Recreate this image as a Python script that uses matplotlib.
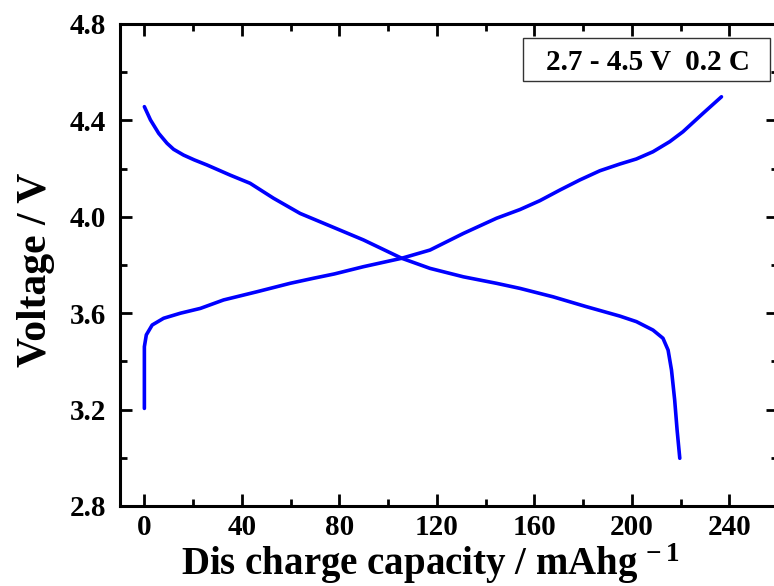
import matplotlib
matplotlib.use("Agg")
import matplotlib.pyplot as plt
from matplotlib.ticker import MultipleLocator
from matplotlib.patches import Rectangle

plt.rcParams['font.family'] = ['Liberation Serif', 'DejaVu Serif']
plt.rcParams['font.weight'] = 'bold'
plt.rcParams['mathtext.fontset'] = 'custom'
plt.rcParams['mathtext.rm'] = 'Liberation Serif:bold'
plt.rcParams['mathtext.it'] = 'Liberation Serif:bold'
plt.rcParams['mathtext.bf'] = 'Liberation Serif:bold'

# Charge curve (voltage rising)
charge_cap = [0.0, 0.0, 0.0, 0.8, 3.2, 7.9, 14.8, 23.0, 32.5, 46.2, 59.8, 69.4,
              78.0, 89.9, 105.6, 117.2, 130.9, 144.5, 154.1, 162.3, 170.5,
              178.7, 186.9, 195.1, 201.9, 208.7, 215.6, 221.0, 229.2, 236.8]
charge_v = [3.205, 3.392, 3.461, 3.510, 3.551, 3.579, 3.600, 3.620, 3.655, 3.689,
            3.724, 3.745, 3.763, 3.793, 3.828, 3.862, 3.931, 3.994, 4.030,
            4.067, 4.111, 4.153, 4.191, 4.219, 4.240, 4.270, 4.312, 4.353,
            4.429, 4.498]

# Discharge curve (voltage falling)
dis_cap = [0.0, 2.5, 5.9, 9.3, 12.0, 16.1, 20.5, 25.7, 35.2, 43.4, 53.0,
           63.9, 76.2, 89.9, 105.6, 117.2, 130.9, 144.5, 154.1, 167.7,
           181.4, 195.1, 201.9, 208.7, 212.8, 214.9, 216.3, 217.6, 218.6, 219.7]
dis_v = [4.457, 4.402, 4.346, 4.305, 4.280, 4.256, 4.236, 4.215, 4.173,
         4.139, 4.077, 4.014, 3.962, 3.904, 3.828, 3.786, 3.751, 3.724,
         3.703, 3.668, 3.627, 3.588, 3.565, 3.530, 3.496, 3.447, 3.364, 3.240,
         3.115, 2.998]

xticks = [0, 40, 80, 120, 160, 200, 240]
yticks = [2.8, 3.2, 3.6, 4.0, 4.4, 4.8]
box_text = "2.7 - 4.5 V  0.2 C"

W, H = 774, 586
fig = plt.figure(figsize=(W / 100, H / 100), dpi=100)
ax = fig.add_axes([120 / W, (H - 506) / H, (778 - 120) / W, (506 - 24) / H])

ax.plot(charge_cap, charge_v, color='#0000ff', lw=2.6, solid_capstyle='round',
        solid_joinstyle='round')
ax.plot(dis_cap, dis_v, color='#0000ff', lw=2.6, solid_capstyle='round',
        solid_joinstyle='round')

ax.set_xlim(-10, 260)
ax.set_ylim(2.8, 4.8)
ax.set_xticks(xticks)
ax.set_yticks(yticks)
ax.set_yticklabels([f"{v:.1f}" for v in yticks])
ax.xaxis.set_minor_locator(MultipleLocator(20))
ax.yaxis.set_minor_locator(MultipleLocator(0.2))
ax.tick_params(which='both', direction='in', top=True, right=True, width=2.0,
               color='black')
ax.tick_params(which='major', length=8.5, labelsize=21)
ax.tick_params(axis='x', which='major', pad=6)
ax.tick_params(axis='y', which='major', pad=10)
ax.tick_params(which='minor', length=5)
for s in ax.spines.values():
    s.set_linewidth(2.2)
for lab in ax.get_xticklabels() + ax.get_yticklabels():
    lab.set_fontweight('bold')

ax.set_xlabel(r"Dis charge capacity / mAhg$^{\,-1}$", fontsize=28, fontweight='bold')
ax.set_ylabel("Voltage / V", fontsize=30, fontweight='bold')
ax.xaxis.label.set_va('baseline')
ax.yaxis.label.set_va('baseline')
ax.xaxis.set_label_coords(0.471, -0.143)
ax.yaxis.set_label_coords(-0.113, 0.490)

ax.add_patch(Rectangle((0.6125, 0.882), 0.3755, 0.089, transform=ax.transAxes,
                       fc='white', ec='#333333', lw=1.0, zorder=5))
ax.text(0.8017, 0.9046, box_text, transform=ax.transAxes,
        ha='center', va='baseline', fontsize=21, fontweight='bold', zorder=6)

fig.savefig("out.png", dpi=100)
